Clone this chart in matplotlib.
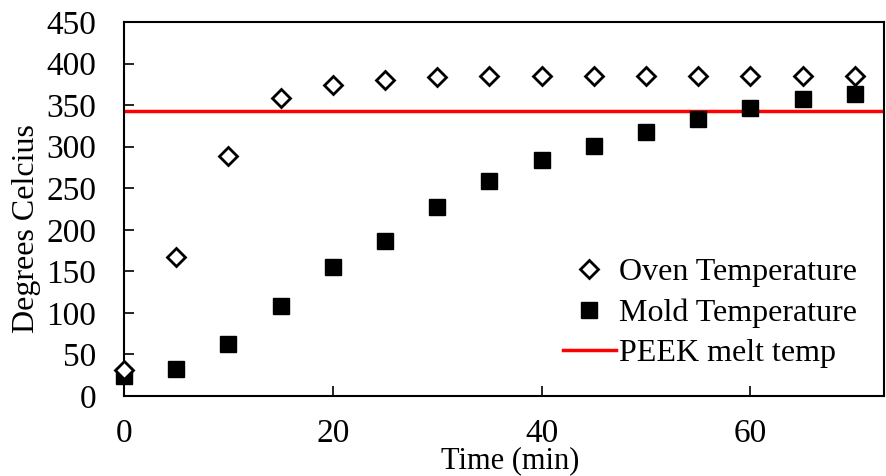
import matplotlib.pyplot as plt
import numpy as np

plt.rcParams['font.family'] = ['Liberation Serif', 'DejaVu Serif']

# data
time_min = [0, 5, 10, 15, 20, 25, 30, 35, 40, 45, 50, 55, 60, 65, 70]
oven_temp = [31, 167, 289, 358, 374, 380, 384, 385, 385, 385, 385, 385, 385, 385, 385]
mold_temp = [24, 33, 63, 108, 155, 187, 227, 259, 284, 301, 318, 333, 347, 357, 363]
peek_melt = 343

fig = plt.figure(figsize=(8.86, 4.76), dpi=100)
ax = fig.add_axes([124 / 886, 1 - 396 / 476, (884 - 124) / 886, (396 - 22) / 476])

ax.plot(time_min, mold_temp, ls='none', marker='s', ms=12, mfc='black',
        mec='black', label='Mold Temperature', zorder=3, clip_on=False)
ax.plot(time_min, oven_temp, ls='none', marker='D', ms=9.5, mfc='white',
        mec='black', mew=2, label='Oven Temperature', zorder=4, clip_on=False)
ax.axhline(peek_melt, color='red', lw=2.5, label='PEEK melt temp', zorder=2)

ax.set_xlim(0, 72.8)
ax.set_ylim(0, 450)
ax.set_xticks([0, 20, 40, 60])
ax.set_yticks(np.arange(0, 451, 50))
ax.tick_params(axis='both', direction='in', labelsize=24, length=7, width=1.2,
               top=False, right=False)
ax.tick_params(axis='x', pad=16)
ax.tick_params(axis='y', pad=20)
for s in ax.spines.values():
    s.set_linewidth(1.5)

ax.set_xlabel('Time (min)', fontsize=22, va='bottom')
ax.xaxis.set_label_coords(0.508, -0.212)
ax.set_ylabel('Degrees Celcius', fontsize=23, va='center')
ax.yaxis.set_label_coords(-0.128, 0.449)

h, l = ax.get_legend_handles_labels()
order = [1, 0, 2]
ax.legend([h[i] for i in order], [l[i] for i in order], loc='lower right',
          bbox_to_anchor=(0.965, 0.075), frameon=False, fontsize=23,
          handlelength=1.66, handletextpad=0.12, labelspacing=0.34,
          borderaxespad=0, borderpad=0)

fig.savefig('out.png', dpi=100)
